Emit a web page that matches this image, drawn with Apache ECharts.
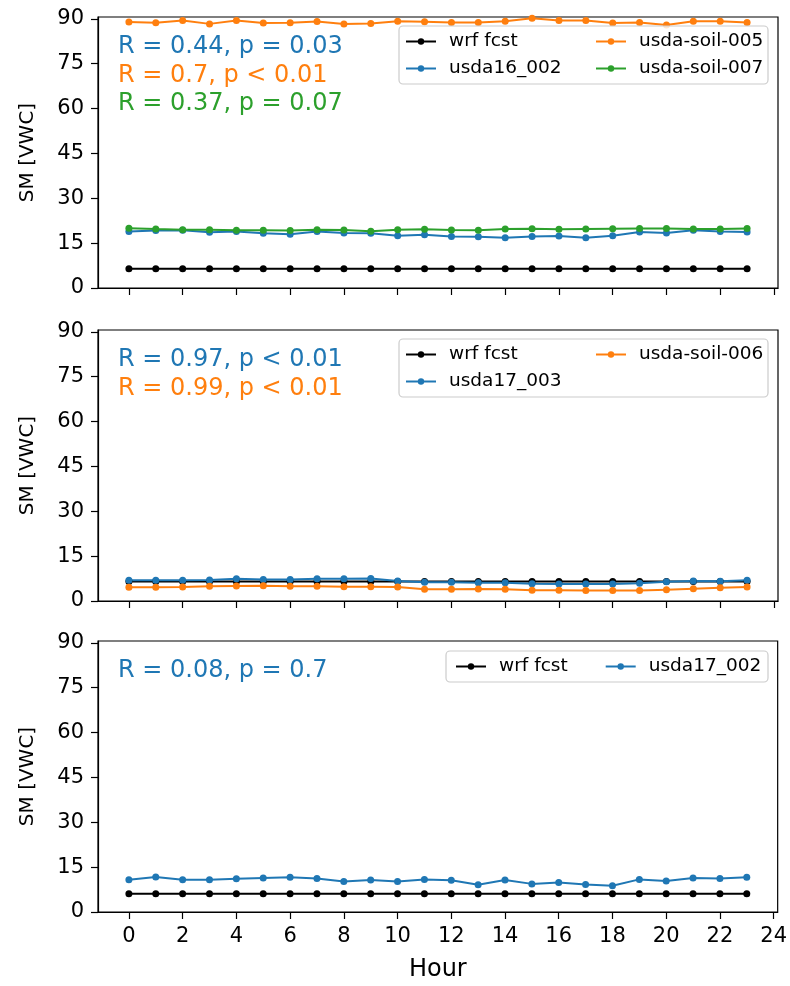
<!DOCTYPE html>
<html>
<head>
<meta charset="utf-8">
<script src="https://cdn.jsdelivr.net/npm/echarts@6/dist/echarts.min.js"></script>
<style>
  html, body { margin: 0; padding: 0; background: #fff; }
  #chart { width: 790px; height: 986px; }
</style>
</head>
<body>
<div id="chart"></div>
<script>
// hours on the x axis
const hours = [0, 1, 2, 3, 4, 5, 6, 7, 8, 9, 10, 11, 12, 13, 14, 15, 16, 17, 18, 19, 20, 21, 22, 23]
const xTicks = [0, 2, 4, 6, 8, 10, 12, 14, 16, 18, 20, 22, 24]
const yTicks = [0, 15, 30, 45, 60, 75, 90]

// panel 1
const wrf1 = [6.4, 6.4, 6.4, 6.4, 6.4, 6.4, 6.4, 6.4, 6.4, 6.4, 6.4, 6.4, 6.4, 6.4, 6.4, 6.4, 6.4, 6.4, 6.4, 6.4, 6.4, 6.4, 6.4, 6.4]
const usda16_002 = [18.9, 19.2, 19.3, 18.6, 18.9, 18.3, 18.0, 18.9, 18.4, 18.3, 17.5, 17.8, 17.2, 17.1, 16.8, 17.2, 17.4, 16.8, 17.5, 18.7, 18.4, 19.3, 18.9, 18.7]
const soil005 = [88.9, 88.7, 89.4, 88.3, 89.4, 88.6, 88.7, 89.1, 88.3, 88.4, 89.2, 89.0, 88.8, 88.8, 89.2, 90.2, 89.4, 89.4, 88.6, 88.8, 87.9, 89.2, 89.2, 88.8]
const soil007 = [20.0, 19.7, 19.5, 19.5, 19.3, 19.3, 19.2, 19.5, 19.4, 19.0, 19.5, 19.6, 19.4, 19.3, 19.7, 19.8, 19.6, 19.7, 19.8, 19.9, 19.9, 19.7, 19.7, 19.9]

// panel 2
const wrf2 = [6.5, 6.5, 6.5, 6.5, 6.5, 6.5, 6.5, 6.5, 6.5, 6.5, 6.5, 6.5, 6.5, 6.5, 6.5, 6.5, 6.5, 6.5, 6.5, 6.5, 6.5, 6.5, 6.5, 6.5]
const usda17_003 = [6.9, 6.9, 6.9, 7.0, 7.4, 7.2, 7.2, 7.4, 7.4, 7.5, 6.7, 6.3, 6.3, 6.1, 6.1, 5.8, 5.7, 5.7, 5.7, 5.9, 6.4, 6.7, 6.6, 6.9]
const soil006 = [4.6, 4.6, 4.7, 4.9, 5.0, 5.1, 4.9, 4.9, 4.8, 4.8, 4.7, 3.9, 3.9, 4.0, 3.9, 3.6, 3.6, 3.5, 3.5, 3.5, 3.8, 4.1, 4.4, 4.7]

// panel 3
const wrf3 = [6.1, 6.1, 6.1, 6.1, 6.1, 6.1, 6.1, 6.1, 6.1, 6.1, 6.1, 6.1, 6.1, 6.1, 6.1, 6.1, 6.1, 6.1, 6.1, 6.1, 6.1, 6.1, 6.1, 6.1]
const usda17_002 = [10.8, 11.7, 10.8, 10.8, 11.1, 11.4, 11.6, 11.2, 10.2, 10.7, 10.2, 10.9, 10.6, 9.1, 10.7, 9.4, 9.9, 9.2, 8.8, 10.9, 10.4, 11.4, 11.2, 11.6]

// correlation notes per panel
const notes1 = ['R = 0.44, p = 0.03', 'R = 0.7, p < 0.01', 'R = 0.37, p = 0.07']
const notes2 = ['R = 0.97, p < 0.01', 'R = 0.99, p < 0.01']
const notes3 = ['R = 0.08, p = 0.7']

const BLUE = '#1f77b4'
const ORANGE = '#ff7f0e'
const GREEN = '#2ca02c'
const BLACK = '#000000'
const FONT = 'DejaVu Sans'

const panelTops = [17, 330, 641]
const panelHeight = 271
const gridLeft = 98
const gridWidth = 680

const chart = echarts.init(document.getElementById('chart'), null, { renderer: 'canvas' })

function pairs(vals) {
  return hours.map((h, i) => [h, vals[i]])
}

function lineSeries(name, vals, color, idx) {
  return {
    name: name,
    type: 'line',
    xAxisIndex: idx,
    yAxisIndex: idx,
    data: pairs(vals),
    symbol: 'circle',
    symbolSize: 7,
    showSymbol: true,
    animation: false,
    itemStyle: { color: color },
    lineStyle: { color: color, width: 2 },
    emphasis: { disabled: true }
  }
}

const grids = panelTops.map(t => ({
  left: gridLeft,
  top: t,
  width: gridWidth,
  height: panelHeight,
  show: true,
  borderColor: '#000',
  borderWidth: 1.2,
  backgroundColor: 'transparent'
}))

const xAxes = panelTops.map((t, i) => ({
  type: 'value',
  gridIndex: i,
  min: -1.15,
  max: 24.15,
  name: i === 2 ? 'Hour' : '',
  nameLocation: 'middle',
  nameGap: 46,
  nameTextStyle: { fontFamily: FONT, fontSize: 24, color: '#000' },
  axisLine: { show: true, onZero: false, lineStyle: { color: '#000', width: 1.2 } },
  axisTick: { show: true, inside: false, length: 7, customValues: xTicks, lineStyle: { color: '#000', width: 1.2 } },
  axisLabel: { show: i === 2, customValues: xTicks, margin: 14, fontFamily: FONT, fontSize: 21, color: '#000' },
  splitLine: { show: false }
}))

const yAxes = panelTops.map((t, i) => ({
  type: 'value',
  gridIndex: i,
  min: 0,
  max: 90.6,
  name: 'SM [VWC]',
  nameLocation: 'middle',
  nameGap: 60,
  nameTextStyle: { fontFamily: FONT, fontSize: 20, color: '#000' },
  axisLine: { show: true, onZero: false, lineStyle: { color: '#000', width: 1.2 } },
  axisTick: { show: true, inside: false, length: 7, customValues: yTicks, lineStyle: { color: '#000', width: 1.2 } },
  axisLabel: { customValues: yTicks, margin: 14, fontFamily: FONT, fontSize: 21, color: '#000' },
  splitLine: { show: false }
}))

const series = [
  lineSeries('wrf fcst', wrf1, BLACK, 0),
  lineSeries('usda16_002', usda16_002, BLUE, 0),
  lineSeries('usda-soil-005', soil005, ORANGE, 0),
  lineSeries('usda-soil-007', soil007, GREEN, 0),
  lineSeries('wrf fcst', wrf2, BLACK, 1),
  lineSeries('usda17_003', usda17_003, BLUE, 1),
  lineSeries('usda-soil-006', soil006, ORANGE, 1),
  lineSeries('wrf fcst', wrf3, BLACK, 2),
  lineSeries('usda17_002', usda17_002, BLUE, 2)
]

function legendBlock(names, left, top, orient) {
  return {
    data: names,
    left: left,
    top: top,
    orient: orient,
    itemWidth: 30,
    itemHeight: 8,
    itemGap: orient === 'vertical' ? 6 : 37,
    padding: 0,
    selectedMode: false,
    z: 6,
    textStyle: { fontFamily: FONT, fontSize: 18.5, color: '#000', lineHeight: 21, padding: [0, 0, 0, 8] }
  }
}

const legends = [
  legendBlock(['wrf fcst', 'usda16_002'], 405, panelTops[0] + 14, 'vertical'),
  legendBlock(['usda-soil-005', 'usda-soil-007'], 595, panelTops[0] + 14, 'vertical'),
  legendBlock(['wrf fcst', 'usda17_003'], 405, panelTops[1] + 14, 'vertical'),
  legendBlock(['usda-soil-006'], 595, panelTops[1] + 14, 'vertical'),
  legendBlock(['wrf fcst', 'usda17_002'], 455, panelTops[2] + 15, 'horizontal')
]

// legend frames and the R / p notes
const graphics = []
function frame(x, y, w, h) {
  graphics.push({
    type: 'rect',
    z: 5,
    shape: { x: x, y: y, width: w, height: h, r: 4 },
    style: { fill: 'rgba(255,255,255,0.8)', stroke: '#cccccc', lineWidth: 1.2 }
  })
}
frame(399, panelTops[0] + 9, 369, 58)
frame(399, panelTops[1] + 9, 369, 58)
frame(446, panelTops[2] + 10, 322, 31)

function notes(lines, colors, top) {
  lines.forEach((txt, i) => {
    graphics.push({
      type: 'text',
      z: 5,
      x: 118,
      y: top + 30 + i * 28.4,
      style: {
        text: txt,
        fill: colors[i],
        font: '24px "DejaVu Sans"',
        textVerticalAlign: 'middle'
      }
    })
  })
}
notes(notes1, [BLUE, ORANGE, GREEN], panelTops[0])
notes(notes2, [BLUE, ORANGE], panelTops[1])
notes(notes3, [BLUE], panelTops[2])

chart.setOption({
  animation: false,
  backgroundColor: '#fff',
  grid: grids,
  xAxis: xAxes,
  yAxis: yAxes,
  legend: legends,
  series: series,
  graphic: graphics
})
</script>
</body>
</html>
